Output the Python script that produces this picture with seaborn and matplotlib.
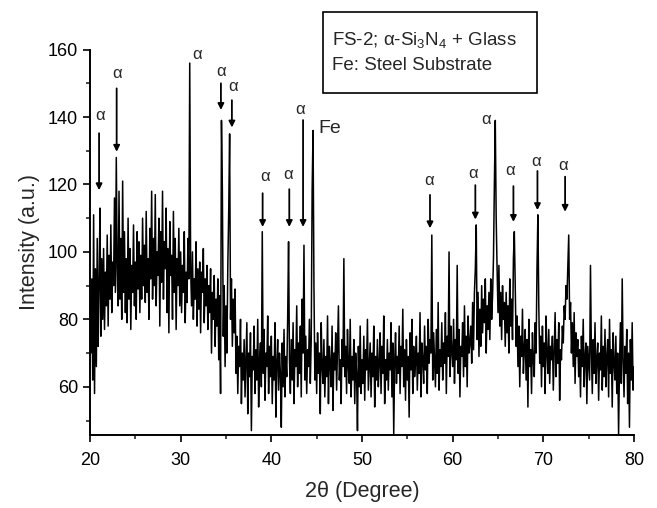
import numpy as np
import seaborn as sns
import matplotlib.pyplot as plt
from matplotlib.patches import Rectangle
from matplotlib.ticker import MultipleLocator

# XRD scan at 0.1 deg steps (one row per degree)
two_theta_start = 20.0
two_theta_step = 0.1
intensity = [
    86, 70, 92, 62, 111, 58, 95, 66, 104, 72,    # 20
    90, 113, 75, 98, 80, 101, 77, 94, 84, 105,   # 21
    78, 99, 86, 108, 82, 97, 90, 116, 88, 128,   # 22
    95, 84, 118, 86, 104, 80, 121, 88, 106, 82,  # 23
    98, 79, 110, 86, 101, 77, 96, 88, 108, 84,   # 24
    97, 80, 106, 89, 103, 82, 99, 86, 110, 90,   # 25
    102, 85, 112, 88, 98, 80, 107, 92, 118, 86,  # 26
    104, 90, 117, 84, 100, 93, 110, 78, 106, 91, # 27
    118, 86, 103, 95, 113, 82, 101, 76, 109, 93, # 28
    99, 80, 112, 88, 104, 77, 98, 90, 107, 84,   # 29
    100, 82, 96, 88, 106, 79, 94, 85, 104, 92,   # 30
    156, 95, 84, 100, 80, 92, 86, 103, 78, 95,   # 31
    83, 97, 76, 94, 88, 101, 79, 92, 84, 96,     # 32
    77, 90, 82, 95, 70, 88, 80, 93, 72, 86,      # 33
    78, 92, 68, 87, 58, 139, 118, 75, 90, 66,    # 34
    84, 70, 96, 112, 135, 80, 92, 72, 86, 76,    # 35
    89, 64, 75, 58, 72, 66, 80, 55, 70, 62,      # 36
    74, 57, 68, 79, 52, 70, 63, 76, 47, 69,      # 37
    65, 78, 58, 71, 62, 80, 54, 68, 73, 60,      # 38
    106, 64, 77, 56, 70, 66, 81, 58, 72, 63,     # 39
    75, 55, 69, 62, 79, 51, 67, 74, 59, 70,      # 40
    64, 48, 73, 60, 77, 57, 69, 63, 80, 103,     # 41
    68, 58, 74, 62, 79, 55, 71, 66, 84, 60,      # 42
    73, 64, 78, 57, 86, 70, 102, 62, 75, 58,     # 43
    71, 66, 80, 61, 74, 118, 136, 90, 62, 73,    # 44
    58, 76, 64, 70, 52, 79, 66, 61, 74, 57,      # 45
    69, 63, 81, 55, 72, 67, 60, 78, 53, 70,      # 46
    65, 76, 59, 71, 84, 62, 68, 55, 74, 66,      # 47
    98, 63, 72, 58, 77, 66, 61, 80, 57, 69,      # 48
    62, 74, 55, 70, 64, 47, 72, 60, 78, 58,      # 49
    68, 61, 75, 56, 71, 65, 80, 59, 66, 73,      # 50
    57, 70, 63, 78, 54, 69, 62, 74, 60, 67,      # 51
    76, 58, 72, 64, 81, 55, 68, 62, 74, 59,      # 52
    70, 65, 79, 57, 73, 46, 67, 76, 61, 69,      # 53
    64, 78, 58, 72, 66, 83, 60, 71, 56, 74,      # 54
    62, 69, 51, 76, 65, 80, 58, 72, 63, 67,      # 55
    75, 59, 70, 64, 82, 57, 73, 68, 61, 78,      # 56
    65, 72, 58, 80, 67, 74, 70, 105, 62, 76,     # 57
    68, 60, 77, 64, 85, 59, 71, 66, 79, 62,      # 58
    73, 67, 82, 58, 75, 69, 100, 63, 78, 70,     # 59
    66, 80, 61, 74, 68, 96, 64, 77, 57, 72,      # 60
    69, 79, 63, 84, 66, 75, 60, 81, 70, 73,      # 61
    78, 67, 85, 71, 88, 95, 108, 74, 88, 69,     # 62
    83, 72, 90, 76, 86, 79, 92, 70, 84, 77,      # 63
    88, 74, 92, 80, 87, 98, 120, 139, 110, 95,   # 64
    82, 96, 78, 88, 74, 90, 80, 85, 72, 88,      # 65
    76, 84, 70, 92, 78, 86, 74, 98, 106, 90,     # 66
    72, 81, 66, 78, 60, 75, 69, 83, 64, 71,      # 67
    77, 62, 74, 54, 80, 66, 71, 58, 76, 68,      # 68
    63, 79, 70, 95, 111, 84, 67, 75, 60, 78,     # 69
    66, 73, 58, 81, 70, 64, 77, 61, 72, 68,      # 70
    75, 59, 70, 82, 63, 74, 67, 79, 56, 71,      # 71
    68, 78, 73, 84, 80, 90, 86, 96, 105, 80,     # 72
    85, 70, 79, 66, 82, 61, 76, 69, 74, 63,      # 73
    71, 57, 75, 66, 80, 60, 69, 73, 55, 72,      # 74
    67, 62, 96, 70, 58, 74, 64, 79, 61, 68,      # 75
    73, 56, 70, 65, 81, 59, 72, 63, 77, 60,      # 76
    69, 74, 57, 80, 64, 71, 54, 76, 67, 62,      # 77
    75, 58, 70, 46, 66, 79, 61, 92, 68, 57,      # 78
    72, 64, 77, 55, 70, 48, 74, 62, 79, 59,      # 79
    66,                                          # 80
]
two_theta = two_theta_start + two_theta_step * np.arange(len(intensity))

# alpha-Si3N4 peak markers: arrow x, arrow tail (top) and head (bottom)
arrow_x = [21.0, 22.94, 34.44, 35.65, 39.04, 41.98, 43.5, 57.5, 62.5, 66.7, 69.35, 72.4]
arrow_tail = [135.2, 148.5, 150.0, 145.0, 117.4, 118.6, 139.1, 116.9, 119.8, 119.5, 124.0, 122.3]
arrow_head = [118.3, 129.7, 142.1, 136.9, 107.4, 107.4, 107.4, 107.0, 109.6, 108.9, 112.4, 111.9]

# alpha label positions (centre)
alpha_x = [21.09, 22.93, 31.82, 34.41, 35.8, 39.3, 41.86, 43.15, 57.4, 62.26, 63.66, 66.3, 69.25, 72.18]
alpha_y = [140.6, 153.0, 158.4, 153.4, 149.0, 122.3, 123.1, 142.3, 121.3, 123.3, 139.3, 124.0, 126.9, 125.5]

sns.set_style("ticks")
plt.rcParams['font.family'] = ['Liberation Sans', 'DejaVu Sans']
plt.rcParams['mathtext.default'] = 'regular'

fig = plt.figure(figsize=(6.57, 5.08), dpi=100)
ax = fig.add_axes([90 / 657, 1 - 435 / 508, 544 / 657, (435 - 49.6) / 508])

sns.lineplot(x=two_theta, y=intensity, ax=ax, color="black", linewidth=1.1)

ax.set_xlim(20, 80)
ax.set_ylim(45.7, 160)
ax.xaxis.set_major_locator(MultipleLocator(10))
ax.xaxis.set_minor_locator(MultipleLocator(5))
ax.yaxis.set_major_locator(MultipleLocator(20))
ax.yaxis.set_minor_locator(MultipleLocator(10))
ax.tick_params(which="major", direction="out", length=5, width=1.2, labelsize=13, colors="black")
ax.tick_params(which="minor", direction="out", length=3, width=1.2)
ax.tick_params(axis="x", which="major", pad=7)
for s in ["left", "bottom"]:
    ax.spines[s].set_linewidth(1.4)
    ax.spines[s].set_color("black")
sns.despine(ax=ax)

ax.set_xlabel("2θ (Degree)", fontsize=15.5, labelpad=9)
ax.set_ylabel("Intensity (a.u.)", fontsize=15.5, labelpad=6)

for x, t, h in zip(arrow_x, arrow_tail, arrow_head):
    ax.annotate("", xy=(x, h), xytext=(x, t),
                arrowprops=dict(arrowstyle="-|>", color="black", lw=1.3,
                                mutation_scale=9, shrinkA=0, shrinkB=0))
for x, y in zip(alpha_x, alpha_y):
    ax.text(x, y, "α", fontsize=12, ha="center", va="center", clip_on=False)
ax.text(45.17, 136.6, "Fe", fontsize=14, ha="left", va="center")

# legend box above the plot
fig.add_artist(Rectangle((323 / 657, 1 - 93 / 508), (537 - 323) / 657, (93 - 12) / 508,
                         transform=fig.transFigure, fill=False, lw=1.2, color="black"))
fig.text(332 / 657, 1 - 40 / 508, "FS-2; α-Si$_3$N$_4$ + Glass", fontsize=13.5, va="center")
fig.text(332 / 657, 1 - 66 / 508, "Fe: Steel Substrate", fontsize=13.5, va="center")

fig.savefig("out.png", dpi=100)
